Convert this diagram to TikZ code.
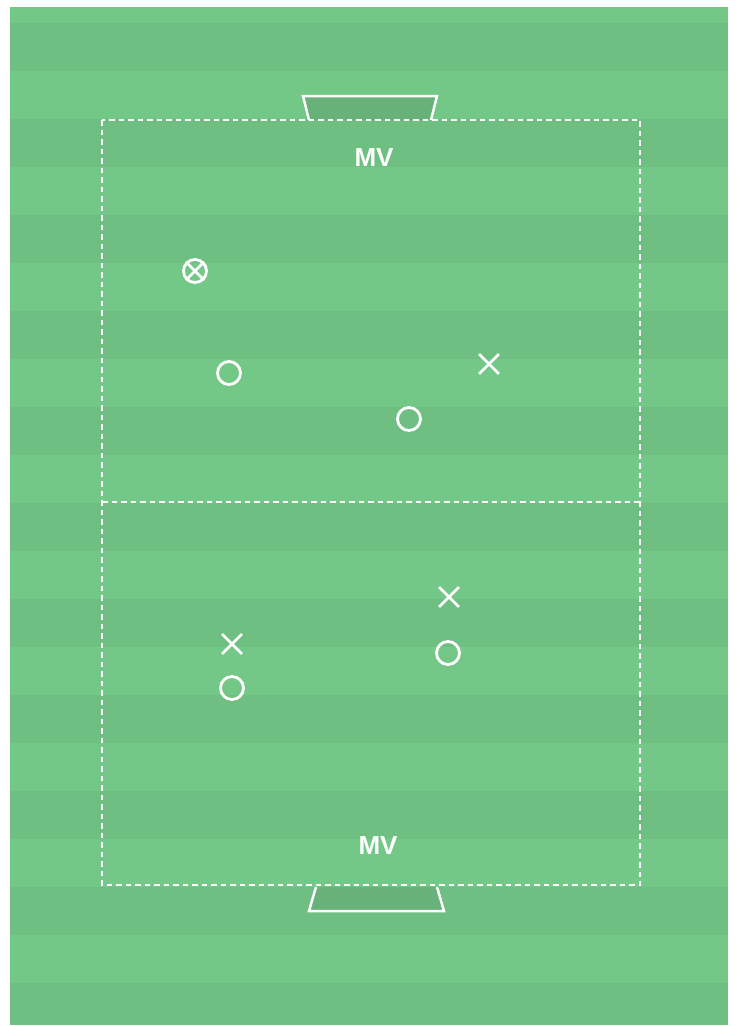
\documentclass[tikz,border=0pt]{standalone}
\usepackage{fontspec}
\setmainfont{Liberation Sans}
\usetikzlibrary{shapes.misc}
\definecolor{lightg}{RGB}{116,200,135}
\definecolor{darkg}{RGB}{110,191,129}
\definecolor{goalg}{RGB}{104,178,121}
\tikzset{
  player/.style={circle,draw=white,line width=2.8pt,minimum size=23pt,inner sep=0pt},
  opp/.style={cross out,draw=white,line width=2.8pt,minimum size=17pt,inner sep=0pt},
  zone/.style={draw=white,line width=1.7pt,dash pattern=on 5.5pt off 4pt},
  goal/.style={draw=white,line width=2.5pt,fill=goalg},
  lbl/.style={text=white,font=\bfseries\fontsize{26}{30}\selectfont,inner sep=0pt}
}
\begin{document}
\begin{tikzpicture}[x=1pt,y=-1pt]
\useasboundingbox (0,0) rectangle (737,1026);
\fill[white] (0,0) rectangle (737,1026);
\fill[lightg] (10,7) rectangle (728,1025);
\foreach \y in {23,119,215,311,407,503,599,695,791,887,983}{
  \fill[darkg] (10,\y) rectangle (728,{min(\y+48,1025)});
}
% goals
\draw[goal] (309,120) -- (303,96) -- (437,96) -- (431,120);
\draw[goal] (316,887) -- (309,911) -- (444,911) -- (437,887);
% zones
\draw[zone] (102,120) rectangle (640,885);
\coordinate (ml) at (102,502);
\coordinate (mr) at (640,502);
\draw[zone] (ml) -- (mr);
\node[lbl] (mvt) at (374,158) {MV};
\node[lbl] (mvb) at (378,846) {MV};
% players
\node[player] (b) at (195,271) {};
\draw[white,line width=2.8pt] (b.north east) -- (b.south west) (b.north west) -- (b.south east);
\node[player] (p1) at (229,373) {};
\node[player] (p2) at (409,419) {};
\node[player] (p3) at (448,653) {};
\node[player] (p4) at (232,688) {};
\node[opp] (o1) at (489,364) {};
\node[opp] (o2) at (449,597) {};
\node[opp] (o3) at (232,644) {};
\end{tikzpicture}
\end{document}
